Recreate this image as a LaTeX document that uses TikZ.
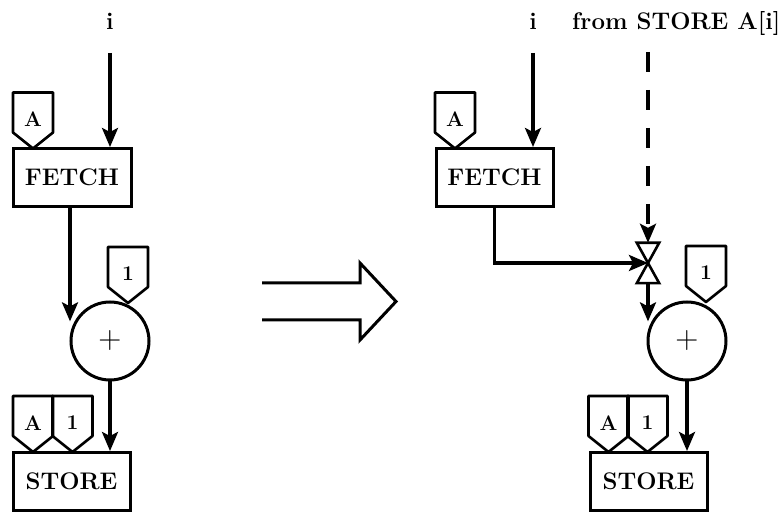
\documentclass[tikz,border=0pt]{standalone}
\usepackage{tikz}
\usetikzlibrary{arrows.meta}
\usetikzlibrary{shapes}

\tikzset{
  flow/.style={line width=3.2pt,-{Stealth[length=19pt,width=16pt,inset=4pt]}},
  opbox/.style={draw,line width=3pt,inner sep=0pt,minimum width=118pt,minimum height=58pt,
    font=\fontsize{24}{28}\selectfont\bfseries},
  adder/.style={draw,circle,line width=3pt,inner sep=0pt,minimum size=78pt,
    font=\fontsize{32}{36}\selectfont},
  tagline/.style={line width=2.6pt,line join=round},
  taglabel/.style={inner sep=0pt,font=\fontsize{21}{24}\selectfont\bfseries},
  inlabel/.style={inner sep=0pt,font=\fontsize{24}{28}\selectfont\bfseries},
}

% tag: name, point, label
\newcommand{\Tag}[3]{%
  \coordinate (#1) at (#2);
  \draw[tagline] (#1) -- ++(-20,16) -- ++(0,40) -- ++(40,0) -- ++(0,-40) -- cycle;
  \node[taglabel] (#1l) at ([yshift=29pt]#1) {#3};
}

\begin{document}
\begin{tikzpicture}[x=1pt,y=1pt]
\useasboundingbox[fill=white] (0,0) rectangle (782,513);
%
% left graph
\node[inlabel,anchor=base] (i1) at (110,483) {i};
\node[opbox] (f1) at (72,335.5) {FETCH};
\node[adder] (p1) at (110,172) {+};
\node[opbox,minimum width=117pt] (s1) at (71.5,31.5) {STORE};
%
\Tag{tA1}{33,364.5}{A}
\Tag{t11}{128,210}{1}
\Tag{sA1}{33,61}{A}
\Tag{s11}{72.5,61}{1}
%
\draw[flow] ([yshift=-23pt]i1.base) -- (i1 |- f1.north);
\draw[flow] ([xshift=-2pt]f1.south) -- ([xshift=-2pt]f1.south |- p1.151);
\draw[flow] (p1.south) -- (p1.south |- s1.north);
%
% transformation arrow
\draw[line width=3pt,line join=miter] (262,230) -- (360,230) -- (360,250) -- (396,211.5)
  -- (360,173) -- (360,193) -- (262,193);
%
% right graph
\node[inlabel,anchor=base] (i2) at (533,483) {i};
\node[inlabel,anchor=base west] (st) at (572,483) {from STORE A[i]};
\node[opbox,minimum width=117pt] (f2) at (494.5,335.5) {FETCH};
\node[draw=none,inner sep=0pt,minimum width=22pt,minimum height=40pt] (g2) at (648,250) {};
\node[adder] (p2) at (687,172) {+};
\node[opbox,minimum width=117pt] (s2) at (648.5,31.5) {STORE};
%
\Tag{tA2}{455,364.5}{A}
\Tag{t12}{706,211}{1}
\Tag{sA2}{608.5,61}{A}
\Tag{s12}{647.5,61}{1}
%
\draw[line width=2.6pt,line join=miter] (g2.north west) -- (g2.north east) -- (g2.south west)
  -- (g2.south east) -- cycle;
%
\draw[flow] ([yshift=-23pt]i2.base) -- (i2 |- f2.north);
\draw[flow,dash pattern=on 20pt off 18pt] (g2.north |- st.base) ++(0,-22) -- (g2.north);
\draw[flow] (f2.south) |- (g2.center);
\draw[flow] (g2.south) -- (g2.south |- p2.151);
\draw[flow] (p2.south) -- (p2.south |- s2.north);
%
\end{tikzpicture}
\end{document}
